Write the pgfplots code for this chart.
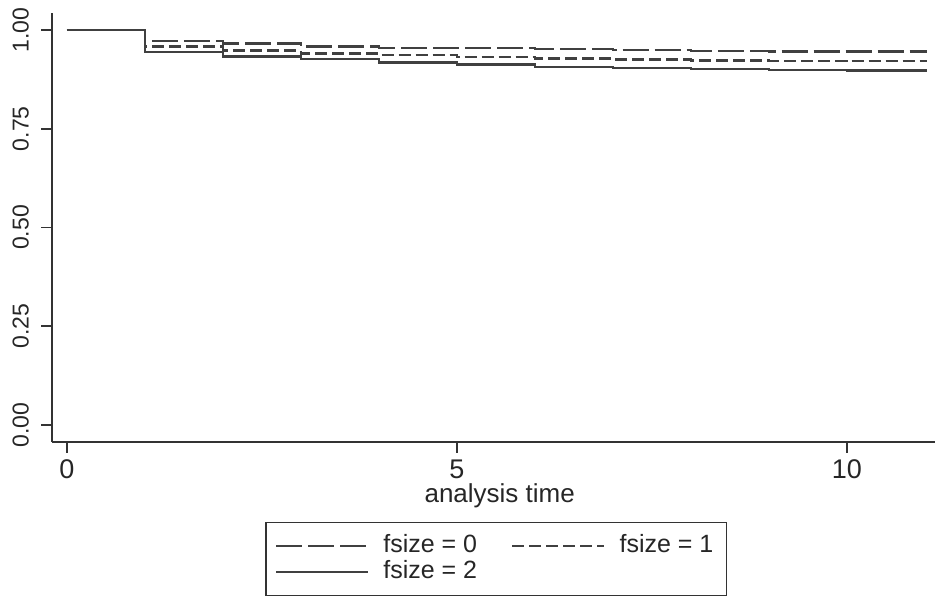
\documentclass[border=0pt]{standalone}
\usepackage{fontspec}
\setmainfont{Liberation Sans}
\usepackage{pgfplots}
\pgfplotsset{compat=1.18}
\begin{document}
\begin{tikzpicture}
\begin{axis}[
  scale only axis,
  width=441.5pt, height=214.5pt,
  xmin=-0.19, xmax=11.13,
  ymin=-0.043, ymax=1.043,
  axis x line*=bottom, axis y line*=left,
  axis line style={black!80, line width=0.9pt, -},
  tick style={black!80, line width=0.8pt},
  tick align=outside,
  major tick length=5.5pt,
  xtick={0,5,10},
  ytick={0,0.25,0.5,0.75,1},
  yticklabels={0.00,0.25,0.50,0.75,1.00},
  /pgf/number format/assume math mode=true,
  xticklabel style={font=\fontsize{13.5}{15}\selectfont, black!85},
  yticklabel shift=2.5pt,
  yticklabel style={rotate=90, anchor=south, font=\fontsize{11.5}{13}\selectfont, black!85},
  xlabel={analysis time},
  x label style={at={(axis description cs:0.507,-0.1399)}, anchor=base, font=\fontsize{13}{15}\selectfont, black!85},
  legend columns=2,
  legend image code/.code={\draw[#1] (0pt,0pt) -- (46pt,0pt);},
  legend style={at={(axis description cs:0.503,-0.1865)}, anchor=north,
    draw=black!80, line width=0.6pt, inner xsep=4.5pt, inner ysep=6pt,
    font=\fontsize{12.5}{14}\selectfont, text=black!85,
    column sep=5pt, row sep=1.5pt,
    nodes={inner ysep=0pt, text height=9pt, text depth=2.5pt},
    /tikz/every even column/.append style={column sep=15pt}},
  every axis plot/.append style={line width=1.2pt, black!75},
]
\addplot[const plot mark left, dash pattern=on 13pt off 3pt] coordinates {
(0,1)(1,0.972)(2,0.966)(3,0.958)(4,0.955)(5,0.955)(6,0.952)(7,0.949)(8,0.947)(9,0.946)(10,0.946)(11.03,0.946)};
\addlegendentry{fsize = 0}
\addplot[const plot mark left, dash pattern=on 6pt off 2.5pt] coordinates {
(0,1)(1,0.958)(2,0.948)(3,0.940)(4,0.936)(5,0.931)(6,0.928)(7,0.925)(8,0.923)(9,0.922)(10,0.921)(11.03,0.921)};
\addlegendentry{fsize = 1}
\addplot[const plot mark left] coordinates {
(0,1)(1,0.945)(2,0.933)(3,0.927)(4,0.918)(5,0.913)(6,0.907)(7,0.903)(8,0.901)(9,0.898)(10,0.897)(11.03,0.897)};
\addlegendentry{fsize = 2}
\end{axis}
\pgfresetboundingbox
\path (-26pt,-80.5pt) rectangle (441.5pt,221pt);
\end{tikzpicture}
\end{document}
